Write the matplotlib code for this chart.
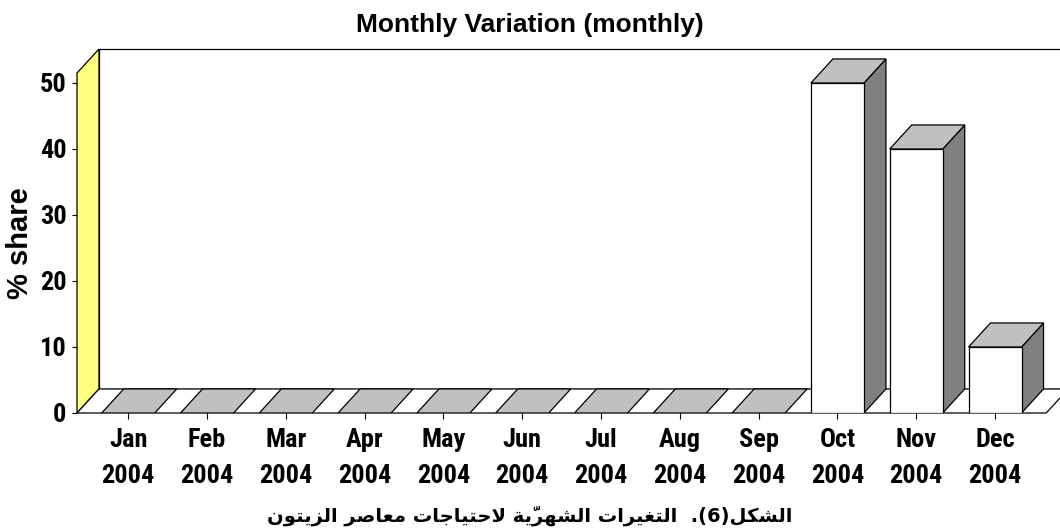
import matplotlib.pyplot as plt
from matplotlib.patches import Polygon
from matplotlib import font_manager as fm

# --- data ---
months = ["Jan", "Feb", "Mar", "Apr", "May", "Jun",
          "Jul", "Aug", "Sep", "Oct", "Nov", "Dec"]
year = "2004"
share = [0, 0, 0, 0, 0, 0, 0, 0, 0, 50, 40, 10]
y_ticks = [0, 10, 20, 30, 40, 50]

title = "Monthly Variation (monthly)"
y_label = "% share"
caption = "الشكل(6).  التغيرات الشهريّة لاحتياجات معاصر الزيتون"

# --- tiny arabic shaper (matplotlib has no complex text layout) ---
FORMS = {
    'ا': (0xFE8D, 0xFE8E, None, None),
    'ة': (0xFE93, 0xFE94, None, None),
    'ت': (0xFE95, 0xFE96, 0xFE97, 0xFE98),
    'ج': (0xFE9D, 0xFE9E, 0xFE9F, 0xFEA0),
    'ح': (0xFEA1, 0xFEA2, 0xFEA3, 0xFEA4),
    'ر': (0xFEAD, 0xFEAE, None, None),
    'ز': (0xFEAF, 0xFEB0, None, None),
    'ش': (0xFEB5, 0xFEB6, 0xFEB7, 0xFEB8),
    'ص': (0xFEB9, 0xFEBA, 0xFEBB, 0xFEBC),
    'ع': (0xFEC9, 0xFECA, 0xFECB, 0xFECC),
    'غ': (0xFECD, 0xFECE, 0xFECF, 0xFED0),
    'ك': (0xFED9, 0xFEDA, 0xFEDB, 0xFEDC),
    'ل': (0xFEDD, 0xFEDE, 0xFEDF, 0xFEE0),
    'م': (0xFEE1, 0xFEE2, 0xFEE3, 0xFEE4),
    'ن': (0xFEE5, 0xFEE6, 0xFEE7, 0xFEE8),
    'ه': (0xFEE9, 0xFEEA, 0xFEEB, 0xFEEC),
    'و': (0xFEED, 0xFEEE, None, None),
    'ي': (0xFEF1, 0xFEF2, 0xFEF3, 0xFEF4),
}
MIRROR = {'(': ')', ')': '('}


def is_mark(c):
    return '\u064b' <= c <= '\u0652'


def arabic_visual(text):
    clusters = []
    n = len(text)
    i = 0
    prev_dual = False
    while i < n:
        c = text[i]
        if c in FORMS:
            j = i + 1
            marks = ''
            while j < n and is_mark(text[j]):
                marks += text[j]
                j += 1
            if c == 'ل' and j < n and text[j] == 'ا':
                clusters.append(chr(0xFEFC if prev_dual else 0xFEFB) + marks)
                prev_dual = False
                i = j + 1
                continue
            iso, fin, ini, med = FORMS[c]
            nxt = text[j] if j < n else ''
            joins_next = ini is not None and nxt in FORMS
            if prev_dual and joins_next:
                g = med
            elif prev_dual:
                g = fin
            elif joins_next:
                g = ini
            else:
                g = iso
            clusters.append(chr(g) + marks)
            prev_dual = ini is not None
            i = j
        else:
            clusters.append(MIRROR.get(c, c))
            prev_dual = False
            i += 1
    return ''.join(reversed(clusters))


# narrow bold font for the tick labels, if one is installed
def find_narrow():
    wanted = ['Liberation Sans Narrow', 'Arial Narrow', 'Roboto Condensed',
              'Open Sans Condensed']
    for name in wanted:
        for f in fm.fontManager.ttflist:
            if f.name == name and f.weight in (700, 'bold') and f.style == 'normal':
                return fm.FontProperties(fname=f.fname), name
    for f in fm.fontManager.ttflist:
        if (f.name in ('Roboto', 'Open Sans') and f.stretch in ('condensed', 'semi-condensed')
                and f.weight in (700, 'bold') and f.style == 'normal'):
            return fm.FontProperties(fname=f.fname), f.name
    return fm.FontProperties(family='Liberation Sans', weight='bold'), None


tick_fp, narrow_name = find_narrow()
tick_size = 19 if narrow_name else 17
tick_fp.set_size(tick_size)

# --- geometry (category units / value units) ---
bar_w = 0.673
ddx, ddy = 0.279, 3.64       # depth offset of the 3d look
x0, x1 = -0.65, 11.65        # floor extent
ytop = 55.15

fig = plt.figure(figsize=(10.6, 5.32), dpi=100)
ax = fig.add_axes([77 / 1060, 119 / 532, 12.6 * 78.8 / 1060, 364 / 532])
ax.set_xlim(x0, x0 + 12.6)
ax.set_ylim(0, ytop)
for s in ax.spines.values():
    s.set_visible(False)

lw = 0.9
# back wall
ax.add_patch(Polygon([(x0 + ddx, ddy), (x1 + ddx + 1, ddy), (x1 + ddx + 1, ytop),
                      (x0 + ddx, ytop)], closed=True, fc='white', ec='black',
                     lw=lw, clip_on=False))
# yellow side wall
ax.add_patch(Polygon([(x0, 0), (x0 + ddx, ddy), (x0 + ddx, ytop), (x0, ytop - ddy)],
                     closed=True, fc='#FFFF80', ec='black', lw=lw, clip_on=False))
# floor
ax.add_patch(Polygon([(x0, 0), (x1, 0), (x1 + ddx, ddy), (x0 + ddx, ddy)],
                     closed=True, fc='white', ec='black', lw=lw, clip_on=False))

# 3d bars
for i, v in enumerate(share):
    l, r = i - bar_w / 2, i + bar_w / 2
    if v > 0:
        ax.add_patch(Polygon([(r, 0), (r + ddx, ddy), (r + ddx, v + ddy), (r, v)],
                             closed=True, fc='#808080', ec='black', lw=lw))
        ax.add_patch(Polygon([(l, 0), (r, 0), (r, v), (l, v)],
                             closed=True, fc='white', ec='black', lw=lw))
    ax.add_patch(Polygon([(l, v), (r, v), (r + ddx, v + ddy), (l + ddx, v + ddy)],
                         closed=True, fc='#C0C0C0', ec='black', lw=lw))

ax.set_xticks(range(len(months)))
ax.set_xticklabels([f"{m}\n{year}" for m in months], fontproperties=tick_fp,
                   linespacing=1.6)
ax.set_yticks(y_ticks)
ax.set_yticklabels([str(t) for t in y_ticks], fontproperties=tick_fp)
ax.tick_params(axis='x', length=4, width=0.8, pad=7)
ax.tick_params(axis='y', length=3.5, width=0.8, pad=4)

fig.text(530 / 1060, 1 - 32 / 532, title, ha='center', va='baseline',
         fontsize=19, fontweight='bold', family='Liberation Sans')
fig.text(20 / 1060, 1 - 243 / 532, y_label, rotation=90, ha='center', va='center',
         fontsize=21, fontweight='bold', family='Liberation Sans')
fig.text(530 / 1060, 1 - 516 / 532, arabic_visual(caption), ha='center', va='center',
         fontsize=14, fontweight='bold', family='DejaVu Sans')

fig.savefig('out.png', dpi=100)
